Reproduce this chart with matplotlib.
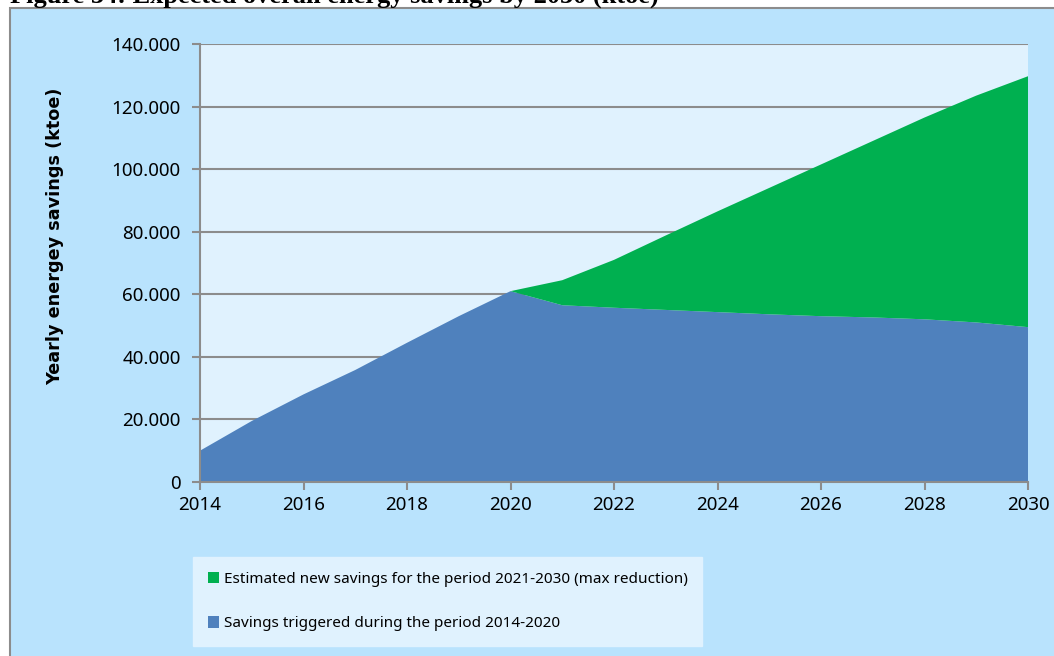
import matplotlib.pyplot as plt
import numpy as np
from matplotlib.patches import Rectangle, Patch
from matplotlib.ticker import FuncFormatter

plt.rcParams['font.family'] = ['Noto Sans', 'DejaVu Sans']

# data (ktoe)
years = np.arange(2014, 2031)
old_savings = [10000, 19500, 28000, 35800, 44500, 53000, 61000, 56500, 55700,
               55000, 54300, 53600, 53000, 52600, 52000, 51000, 49500]
total_savings = [10000, 19500, 28000, 35800, 44500, 53000, 61000, 64500, 71000,
                 78800, 86500, 94000, 101500, 109000, 116500, 123500, 129700]
new_savings = [t - o for t, o in zip(total_savings, old_savings)]

label_new = 'Estimated new savings for the period 2021-2030 (max reduction)'
label_old = 'Savings triggered during the period 2014-2020'

blue = '#4F81BD'
green = '#00B050'
outer_bg = '#B9E3FD'
inner_bg = '#E0F2FE'

W, H = 1054, 656
fig = plt.figure(figsize=(W / 100, H / 100), dpi=100)
fig.patch.set_facecolor('white')

# outer chart box
fig.add_artist(Rectangle((10 / W, -0.1), 1.2, 1 - 8 / H + 0.1, transform=fig.transFigure,
                         facecolor=outer_bg, edgecolor='#8c8c8c', linewidth=1.5, zorder=0))

# title, cut off at top
fig.text(10 / W, 1 - 3 / H, 'Figure 34: Expected overall energy savings by 2030 (ktoe)',
         family='Liberation Serif', weight='bold', fontsize=19, va='baseline', ha='left')

ax = fig.add_axes([200 / W, 1 - 482 / H, (1028 - 200) / W, (482 - 44) / H])
ax.set_facecolor(inner_bg)

ax.stackplot(years, old_savings, new_savings, colors=[blue, green],
             labels=[label_old, label_new], zorder=2)

ax.set_xlim(2014, 2030)
ax.set_ylim(0, 140000)
ax.set_xticks(np.arange(2014, 2031, 2))
ax.set_yticks(np.arange(0, 140001, 20000))
ax.yaxis.set_major_formatter(FuncFormatter(lambda v, p: '0' if v == 0 else f'{int(v):,}'.replace(',', '.')))
ax.grid(axis='y', color='#8c8c8c', linewidth=1.5, zorder=1)
ax.set_axisbelow(True)

for s in ['top', 'right']:
    ax.spines[s].set_visible(False)
for s in ['left', 'bottom']:
    ax.spines[s].set_color('#8c8c8c')
    ax.spines[s].set_linewidth(1.5)
    ax.spines[s].set_zorder(3)
ax.tick_params(axis='both', colors='#8c8c8c', width=1.5, length=6, labelsize=13.5,
               labelcolor='black')
ax.tick_params(axis='y', pad=8)
ax.tick_params(axis='x', pad=4)

fig.text(55 / W, 1 - 236 / H, 'Yearly energey savings (ktoe)', rotation=90,
         family=['DejaVu Sans'], fontsize=12.7, weight='bold', ha='center', va='center')

handles = [Patch(facecolor=green), Patch(facecolor=blue)]
leg = fig.legend(handles, [label_new, label_old], loc='upper left',
                 bbox_to_anchor=(193 / W, 1 - 557 / H), frameon=True, fancybox=False,
                 prop={'family': ['Noto Sans'], 'size': 11},
                 handlelength=0.75, handleheight=0.75, handletextpad=0.3,
                 labelspacing=1.95, borderpad=0.95, borderaxespad=0)
leg.get_frame().set_facecolor(inner_bg)
leg.get_frame().set_edgecolor(inner_bg)
leg.get_frame().set_alpha(1)

fig.savefig('out.png', dpi=100)
